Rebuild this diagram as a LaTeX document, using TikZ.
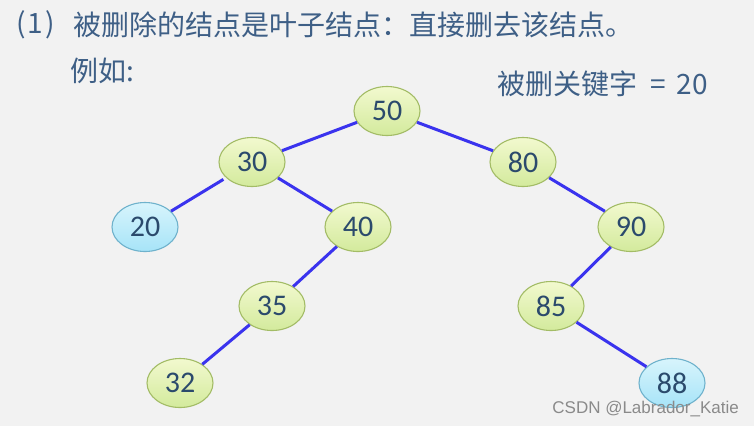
\documentclass[tikz,border=0pt]{standalone}
\usepackage{fontspec}
\setmainfont{Carlito}
\newfontfamily\cjk{Noto Sans CJK SC}
\newfontfamily\numfont{Carlito}
\newfontfamily\wmfont{Liberation Sans}
\usetikzlibrary{shapes.geometric}
\definecolor{bgc}{HTML}{F2F2F2}
\definecolor{txtc}{HTML}{3E5F86}
\definecolor{numc}{HTML}{2B4A6C}
\definecolor{edgec}{HTML}{3A33EE}
\definecolor{gtop}{HTML}{F2F9CF}
\definecolor{gbot}{HTML}{D3EA9C}
\definecolor{gbrd}{HTML}{A3BC66}
\definecolor{btop}{HTML}{D8F4FC}
\definecolor{bbot}{HTML}{A6E4F8}
\definecolor{bbrd}{HTML}{6FB2CC}
\definecolor{wmc}{HTML}{8A8A8A}
\tikzset{
  treenode/.style={ellipse, minimum width=66pt, minimum height=49pt, inner sep=0pt,
    line width=1.1pt, font=\numfont\fontsize{30}{30}\selectfont, text=numc},
  gnode/.style={treenode, draw=gbrd, top color=gtop, bottom color=gbot},
  bnode/.style={treenode, draw=bbrd, top color=btop, bottom color=bbot},
  edge/.style={draw=edgec, line width=3pt},
  hdr/.style={anchor=west, text=txtc, inner sep=0pt, font=\cjk\fontsize{28}{28}\selectfont},
}
\begin{document}
\begin{tikzpicture}[x=1pt,y=-1pt]
\fill[bgc] (0,0) rectangle (754,426);
\useasboundingbox (0,0) rectangle (754,426);
\node[hdr] (num) at (16,25) {(\hspace{2pt}1\hspace{2pt})};
\node[hdr] (title) at (73,25) {被删除的结点是叶子结点：直接删去该结点。};
\node[hdr] (eg) at (70,71) {例如:};
\node[hdr] (key) at (497,84) {被删关键字\hspace{13pt}=\hspace{11pt}20};

\node[gnode] (n50) at (387,111) {50};
\node[gnode] (n30) at (252,162) {30};
\node[gnode] (n80) at (523,162) {80};
\node[bnode] (n20) at (145,227) {20};
\node[gnode] (n40) at (358,227) {40};
\node[gnode] (n90) at (631,227) {90};
\node[gnode] (n35) at (272,306) {35};
\node[gnode] (n85) at (551,306) {85};
\node[gnode] (n32) at (180,383) {32};
\node[bnode] (n88) at (672,383) {88};

\draw[edge] (n50) -- (n30);
\draw[edge] (n50) -- (n80);
\draw[edge, shorten <=3pt] (n30) -- (n20);
\draw[edge] (n30) -- (n40);
\draw[edge] (n80) -- (n90);
\draw[edge] (n40) -- (n35);
\draw[edge] (n90) -- (n85);
\draw[edge] (n35) -- (n32);
\draw[edge] (n85) -- (n88);

\node[anchor=east, text=wmc, font=\wmfont\fontsize{17}{17}\selectfont, inner sep=0pt] (wm) at (739,409) {CSDN @Labrador\_Katie};
\end{tikzpicture}
\end{document}
